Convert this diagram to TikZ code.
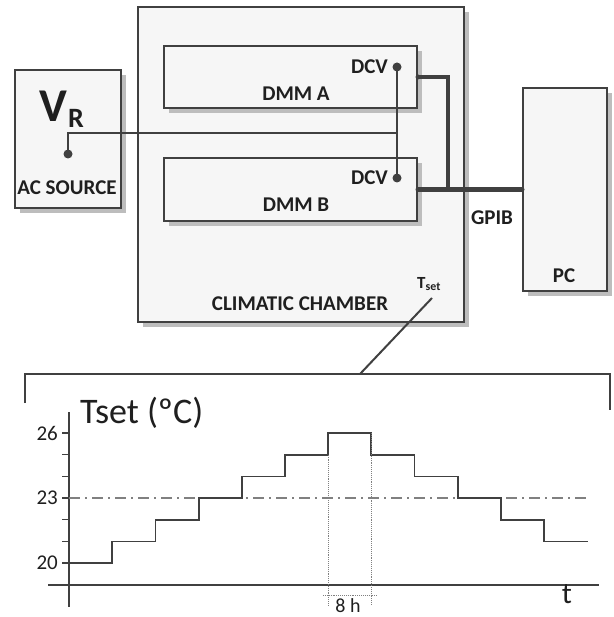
\documentclass[tikz,border=0pt]{standalone}
\usepackage{fontspec}
\setmainfont{Carlito}
\usetikzlibrary{shadows}
\definecolor{ln}{HTML}{404040}
\definecolor{sh}{HTML}{BDBDBD}
\definecolor{bx}{HTML}{F6F6F6}
\begin{document}
\begin{tikzpicture}[x=1pt,y=-1pt,
  box/.style={draw=ln, line width=2pt, fill=bx, inner sep=0pt,
    drop shadow={shadow xshift=5pt, shadow yshift=-5pt, opacity=1, fill=sh}},
  lbl/.style={font=\bfseries\fontsize{21}{23}\selectfont, text=black!88, inner sep=0pt},
  wire/.style={draw=ln, line width=1.8pt},
  gpib/.style={draw=ln, line width=4.5pt},
  dotn/.style={circle, fill=ln, inner sep=0pt, minimum size=9pt},
  axis/.style={draw=ln, line width=1.5pt},
  tick/.style={draw=ln, line width=1.3pt},
  stepline/.style={draw=ln, line width=1.6pt},
  num/.style={font=\fontsize{21}{23}\selectfont, text=black!88, inner sep=0pt}]
\useasboundingbox (0,0) rectangle (613,617);
% boxes
\node[box, minimum width=326pt, minimum height=315pt] (ch) at (301,164.5) {};
\node[box, minimum width=106pt, minimum height=138pt] (acs) at (68,139) {};
\node[box, minimum width=253pt, minimum height=62pt] (dmma) at (290.5,77) {};
\node[box, minimum width=253pt, minimum height=63pt] (dmmb) at (290.5,189.5) {};
\node[box, minimum width=84pt, minimum height=203pt] (pc) at (565,189.5) {};
% labels
\node[lbl, font=\bfseries\fontsize{47}{49}\selectfont] (vv) at (53,106) {V};
\node[lbl, font=\bfseries\fontsize{28}{30}\selectfont] (vr) at (76,118) {R};
\node[lbl] (acl) at (67,188) {AC SOURCE};
\node[lbl] (dal) at (296,94) {DMM A};
\node[lbl] (dbl) at (296,205) {DMM B};
\node[lbl, anchor=east] (dcva) at (388,67) {DCV};
\node[lbl, anchor=east] (dcvb) at (388,178) {DCV};
\node[lbl] (gl) at (492,218) {GPIB};
\node[lbl] (pcl) at (564,276) {PC};
\node[lbl] (chl) at (300,304) {CLIMATIC CHAMBER};
\node[lbl, font=\bfseries\fontsize{17}{19}\selectfont, anchor=west] (ts) at (417,284) {T\textsubscript{set}};
% connectors
\node[dotn] (dsrc) at (68,154) {};
\node[dotn] (dA) at (397,67) {};
\node[dotn] (dB) at (397,178) {};
\coordinate (c1) at (68,133);
\coordinate (c2) at (397,133);
\draw[wire] (dsrc.center) -- (c1) -- (c2);
\draw[wire] (dA.center) -- (dB.center);
\coordinate (g1) at (448,77);
\draw[gpib, line join=miter] (dmma.east) -- (g1) -- (g1 |- dmmb.east);
\draw[gpib] (dmmb.east) -- (pc.west);
\fill[ln] (dmma.east) circle (2.5pt) (dmmb.east) circle (2.5pt) (pc.west) circle (2.5pt);
% bracket
\coordinate (b0) at (25,403);
\coordinate (b1) at (25,374);
\coordinate (b2) at (610,374);
\coordinate (b3) at (610,410);
\coordinate (bm) at (360,374);
\coordinate (tsb) at (432,298);
\draw[draw=ln, line width=2.5pt] (b0) -- (b1) -- (b2) -- (b3);
\draw[draw=ln, line width=2pt] (tsb) -- (bm);
% chart
\draw[axis] (69,412) -- (69,607);
\draw[axis] (48,585) -- (599,585);
\foreach \v in {20,...,26} {
  \draw[tick] (62,{563-(\v-20)*21.67}) -- (69,{563-(\v-20)*21.67});
}
\node[num, anchor=east] (l26) at (58,433) {26};
\node[num, anchor=east] (l23) at (58,498) {23};
\node[num, anchor=east] (l20) at (58,563) {20};
\node[font=\fontsize{36}{38}\selectfont, text=black!88, inner sep=0pt, anchor=west] (tl) at (80,413) {Tset (ºC)};
\draw[draw=gray, line width=1.3pt, dash pattern=on 11pt off 5pt on 2pt off 5pt] (69,498) -- (588,498);
\draw[stepline] (69,563) -- (112,563) -- (112,541.3) -- (155.5,541.3) -- (155.5,519.7)
  -- (199,519.7) -- (199,498) -- (242,498) -- (242,476.3) -- (285,476.3) -- (285,454.7)
  -- (328,454.7) -- (328,433) -- (371,433) -- (371,454.7) -- (414.5,454.7) -- (414.5,476.3)
  -- (458,476.3) -- (458,498) -- (501,498) -- (501,519.7) -- (544,519.7) -- (544,541.3) -- (588,541.3);
\draw[draw=gray, densely dotted, line width=0.9pt] (328,454.7) -- (328,605);
\draw[draw=gray, densely dotted, line width=0.9pt] (371,433) -- (371,605);
\draw[draw=gray, densely dotted, line width=0.9pt] (323,595) -- (378,595);
\node[num, font=\fontsize{20}{22}\selectfont] (eh) at (348,606) {8 h};
\node[num, font=\fontsize{30}{32}\selectfont] (tt) at (567,594) {t};
\end{tikzpicture}
\end{document}
